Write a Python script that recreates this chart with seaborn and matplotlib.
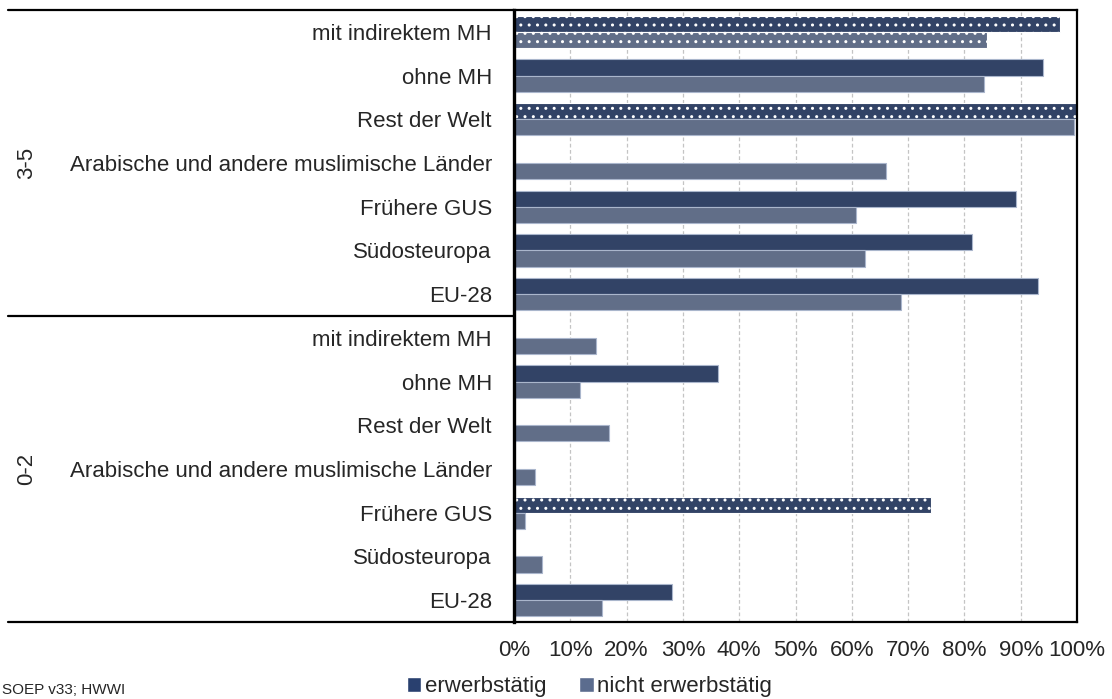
import numpy as np
import pandas as pd
import seaborn as sns
import matplotlib
matplotlib.use('Agg')
import matplotlib.pyplot as plt
from matplotlib.patches import Patch
from matplotlib.transforms import blended_transform_factory

# Alter des jüngsten Kindes (Gruppen) und Herkunftsregionen, von oben nach unten
groups = ['3-5', '0-2']
regions = ['mit indirektem MH', 'ohne MH', 'Rest der Welt',
           'Arabische und andere muslimische Länder', 'Frühere GUS',
           'Südosteuropa', 'EU-28']
status = ['erwerbstätig', 'nicht erwerbstätig']

# Anteile in %, Reihenfolge wie regions (nan = kein Wert)
erw_35 = [96.9, 93.9, 100.0, np.nan, 89.2, 81.3, 93.1]
nicht_erw_35 = [84.0, 83.4, 99.4, 66.0, 60.8, 62.4, 68.8]
erw_02 = [np.nan, 36.3, np.nan, np.nan, 74.0, np.nan, 28.1]
nicht_erw_02 = [14.5, 11.7, 16.8, 3.8, 1.9, 4.9, 15.6]

# geringe Fallzahl -> gepunktete Balken
low_n = [('3-5', 'mit indirektem MH', 'erwerbstätig'),
         ('3-5', 'mit indirektem MH', 'nicht erwerbstätig'),
         ('3-5', 'Rest der Welt', 'erwerbstätig'),
         ('0-2', 'Frühere GUS', 'erwerbstätig')]

source = 'SOEP v33; HWWI'

values = {('3-5', 'erwerbstätig'): erw_35,
          ('3-5', 'nicht erwerbstätig'): nicht_erw_35,
          ('0-2', 'erwerbstätig'): erw_02,
          ('0-2', 'nicht erwerbstätig'): nicht_erw_02}

rows = []
keys = []
for g in groups:
    for i, r in enumerate(regions):
        key = g + ' | ' + r
        keys.append(key)
        for s in status:
            rows.append({'key': key, 'gruppe': g, 'region': r, 'status': s,
                         'anteil': values[(g, s)][i]})
df = pd.DataFrame(rows)

dark = '#29406f'
light = '#5b6c8e'

sns.set_style('white')
plt.rcParams['font.family'] = ['Liberation Sans', 'DejaVu Sans']
plt.rcParams['hatch.linewidth'] = 1.0

fig, ax = plt.subplots(figsize=(11.12, 6.99), dpi=100)
fig.subplots_adjust(left=514 / 1112, right=1077 / 1112,
                    top=1 - 10 / 699, bottom=1 - 622 / 699)

sns.barplot(data=df, y='key', x='anteil', hue='status', order=keys,
            hue_order=status, palette=[dark, light], orient='h', width=0.74,
            edgecolor='#aab6cc', linewidth=0.8, errorbar=None, legend=False,
            ax=ax)

# gepunktete Balken markieren
for p in ax.patches:
    w = p.get_width()
    if w is None or np.isnan(w):
        continue
    yc = p.get_y() + p.get_height() / 2
    idx = int(round(yc))
    s = status[0] if yc < idx else status[1]
    g, r = keys[idx].split(' | ')
    if (g, r, s) in low_n:
        p.set_hatch('..')
        p.set_edgecolor('white')
        if hasattr(p, 'set_hatchcolor'):
            p.set_hatchcolor('white')

ax.set_xlim(0, 100)
ax.set_ylim(len(keys) - 0.5, -0.5)
ax.set_xticks(np.arange(0, 101, 10))
ax.set_xticklabels([f'{v}%' for v in range(0, 101, 10)], fontsize=16)
ax.set_yticks(range(len(keys)))
ax.set_yticklabels([k.split(' | ')[1] for k in keys], fontsize=16)
ax.tick_params(axis='y', length=0, pad=16)
ax.tick_params(axis='x', length=0, pad=13)
ax.set_xlabel('')
ax.set_ylabel('')

ax.set_axisbelow(True)
ax.grid(axis='x', color='#c4c4c4', linestyle=(0, (3, 2)), linewidth=0.9)
ax.grid(axis='y', visible=False)

for side in ['top', 'right', 'bottom', 'left']:
    ax.spines[side].set_visible(True)
    ax.spines[side].set_color('black')
    ax.spines[side].set_linewidth(1.6)
ax.spines['left'].set_linewidth(2.4)

# Trennlinien und Gruppenbeschriftung links
trans = blended_transform_factory(fig.transFigure, ax.transData)
x0 = 8 / 1112
x1 = 514 / 1112
n = len(regions)
for b in [-0.5, n - 0.5, 2 * n - 0.5]:
    ax.plot([x0, x1], [b, b], color='black', linewidth=1.6,
            transform=trans, clip_on=False)
for gi, g in enumerate(groups):
    yc = gi * n + (n - 1) / 2
    ax.text(27 / 1112, yc, g, rotation=90, ha='center', va='center',
            fontsize=16, transform=trans)

handles = [Patch(facecolor=dark), Patch(facecolor=light)]
fig.legend(handles, status, ncol=2, loc='upper center',
           bbox_to_anchor=(0.530, 1 - 656 / 699), frameon=False, fontsize=16,
           handlelength=0.65, handleheight=0.65, handletextpad=0.15,
           columnspacing=1.5)

fig.text(2 / 1112, 1 - 697 / 699, source, fontsize=11, ha='left', va='bottom')

fig.savefig('out.png', dpi=100)
